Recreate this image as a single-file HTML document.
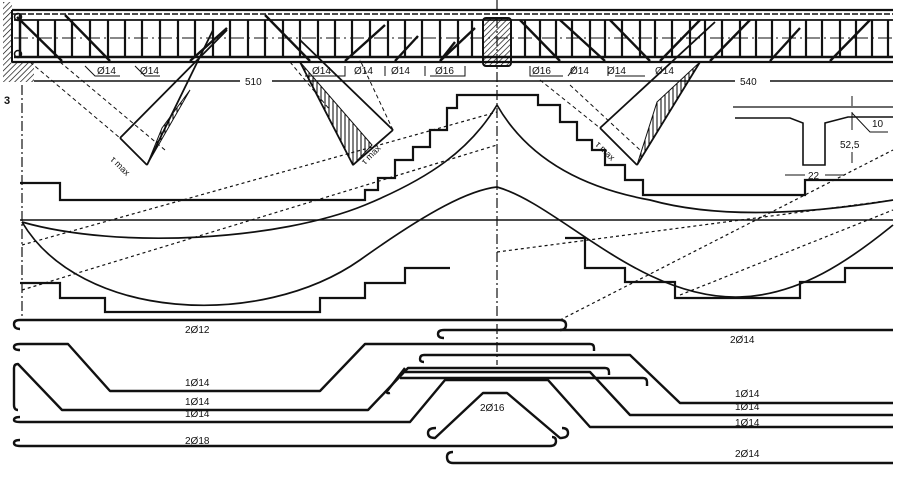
<!DOCTYPE html>
<html><head><meta charset="utf-8"><style>
html,body{margin:0;padding:0;background:#fff;}
svg{display:block;}
text{font-family:"Liberation Sans",sans-serif;fill:#111;}
</style></head><body>
<svg width="900" height="484" viewBox="0 0 900 484" xmlns="http://www.w3.org/2000/svg">
<defs>
<pattern id="h" width="4" height="4" patternUnits="userSpaceOnUse" patternTransform="rotate(45)"><line x1="0" y1="0" x2="0" y2="4" stroke="#000" stroke-width="1.3"/></pattern>
<pattern id="v" width="4" height="4" patternUnits="userSpaceOnUse"><line x1="1" y1="0" x2="1" y2="4" stroke="#000" stroke-width="1"/></pattern>
</defs>
<g stroke="#111" fill="none">
<rect x="3" y="2" width="9" height="80" fill="url(#h)" stroke="none"/>
<rect x="12" y="62" width="22" height="20" fill="url(#h)" stroke="none"/>
<line x1="12" y1="10" x2="893" y2="10" stroke-width="2.2"/>
<line x1="12" y1="14" x2="893" y2="14" stroke-width="1.5" stroke-dasharray="6 2"/>
<line x1="14" y1="20" x2="893" y2="20" stroke-width="1.8"/>
<line x1="14" y1="38" x2="893" y2="38" stroke-width="1" stroke-dasharray="14 4 2 4"/>
<line x1="14" y1="57" x2="893" y2="57" stroke-width="2.4"/>
<line x1="12" y1="62" x2="893" y2="62" stroke-width="2.2"/>
<line x1="12" y1="10" x2="12" y2="62" stroke-width="2"/>
<line x1="20" y1="14" x2="20" y2="58" stroke-width="2.5"/>
<circle cx="18" cy="17" r="3.5" stroke-width="1.5"/>
<circle cx="18" cy="54" r="3.5" stroke-width="1.5"/>
<g stroke-width="2.2">
<path d="M38 20V58M55 20V58M72 20V58M90 20V58M108 20V58M125 20V58M142 20V58M160 20V58M178 20V58M195 20V58M213 20V58M230 20V58M248 20V58M265 20V58M283 20V58M300 20V58M318 20V58M335 20V58M352 20V58M370 20V58M388 20V58M405 20V58M422 20V58M440 20V58M458 20V58M472 20V58M525 20V58M540 20V58M556 20V58M572 20V58M590 20V58M605 20V58M622 20V58M640 20V58M655 20V58M672 20V58M690 20V58M705 20V58M722 20V58M740 20V58M756 20V58M772 20V58M790 20V58M806 20V58M822 20V58M840 20V58M856 20V58M872 20V58M888 20V58"/>
</g>
<g stroke-width="2.4">
<path d="M17 17L62 61M65 15L110 61M227 28L190 61M265 15L310 61M345 61L385 25M395 61L418 36M440 61L455 42M475 28L440 61M520 20L560 61M560 20L605 61M610 20L650 61M700 20L660 61M710 61L750 20M770 61L800 28M830 61L870 20"/>
</g>
<rect x="483" y="18" width="28" height="48" rx="3" fill="url(#h)" stroke-width="2"/>
<g font-size="10">
<text x="97" y="74" fill="#111" stroke="none">Ø14</text>
<text x="140" y="74" fill="#111" stroke="none">Ø14</text>
<text x="312" y="74" fill="#111" stroke="none">Ø14</text>
<text x="354" y="74" fill="#111" stroke="none">Ø14</text>
<text x="391" y="74" fill="#111" stroke="none">Ø14</text>
<text x="435" y="74" fill="#111" stroke="none">Ø16</text>
<text x="532" y="74" fill="#111" stroke="none">Ø16</text>
<text x="570" y="74" fill="#111" stroke="none">Ø14</text>
<text x="607" y="74" fill="#111" stroke="none">Ø14</text>
<text x="655" y="74" fill="#111" stroke="none">Ø14</text>
</g>
<path d="M85 66L95 76H120M135 66L145 76H160M305 76H345V66M385 76V66M425 76V66M430 76H465V66M530 66V76H563M568 76L575 66M608 76V66M615 76H645" stroke-width="1"/>
<line x1="34" y1="81" x2="240" y2="81" stroke-width="1.6"/>
<line x1="272" y1="81" x2="735" y2="81" stroke-width="1.6"/>
<line x1="770" y1="81" x2="893" y2="81" stroke-width="1.6"/>
<line x1="497" y1="0" x2="497" y2="365" stroke-width="1.2" stroke-dasharray="10 3 2 3"/>
<line x1="22" y1="85" x2="22" y2="320" stroke-width="1.2" stroke-dasharray="10 3 2 3"/>
<path d="M147 165L213 30M120 138L227 30M120 138L147 165" stroke-width="1.8"/>
<path d="M30 62L120 138M60 62L165 150" stroke-width="1" stroke-dasharray="4 3"/>
<path d="M147 165L190 90L162 128Z" fill="url(#v)" stroke-width="1"/>
<path d="M353 165L300 62M393 130L300 40M393 130L353 165" stroke-width="1.8"/>
<path d="M353 165L300 62L372 145Z" fill="url(#v)" stroke-width="1"/>
<path d="M393 130L360 60M290 62L330 110" stroke-width="1" stroke-dasharray="4 3"/>
<path d="M637 165L700 62M600 128L715 22M600 128L637 165" stroke-width="1.8"/>
<path d="M637 165L700 62L657 102Z" fill="url(#v)" stroke-width="1"/>
<path d="M540 80L600 128M570 85L640 150" stroke-width="1" stroke-dasharray="4 3"/>
<path d="M20 183H60V200H365V190H378V178H395V160H413V147H430V130H447V108H457V95H538V105H560V122H577V140H592V150H605V165H625V180H643V195H805V180H893" stroke-width="2.2"/>
<path d="M497 105Q540 180 650 200Q740 225 893 200" stroke-width="1.7"/>
<path d="M22 222C120 250 280 240 365 205C430 178 470 150 497 105" stroke-width="1.7"/>
<line x1="20" y1="220" x2="893" y2="220" stroke-width="1.6"/>
<path d="M22 222C80 320 260 330 360 260C430 210 470 190 497 187C560 205 640 300 740 297C800 295 850 260 893 225" stroke-width="1.7"/>
<g stroke-width="1.2" stroke-dasharray="3 3">
<path d="M22 290L497 145"/>
<path d="M22 245L497 112"/>
<path d="M497 252L893 200"/>
<path d="M560 320L893 150"/>
<path d="M680 295L893 210"/>
</g>
<path d="M20 283H60V298H105V312H320V298H365V283H405V268H450" stroke-width="2.2"/>
<path d="M565 238H585V268H625V282H675V298H800V282H845V268H893" stroke-width="2.2"/>
<line x1="733" y1="107" x2="893" y2="107" stroke-width="1.2"/>
<path d="M735 118H790L803 123V165H825V123L848 117H893" stroke-width="1.6"/>
<path d="M852 96V106M852 112V130M852 152V163M852 113L870 132H888M805 175H798M825 175H832M785 175H803M827 175H845" stroke-width="1"/>
<g stroke-width="2.4" stroke-linejoin="round">
<path d="M20 329Q14 329 14 324Q14 320 20 320H560Q566 320 566 325Q566 330 560 330"/>
<path d="M444 338Q438 338 438 334Q438 330 444 330H893"/>
<path d="M20 350Q14 350 14 347Q14 344 20 344H68L110 391H320L365 344H590Q594 344 594 348V351"/>
<path d="M18 410Q14 410 14 405V368Q14 364 18 364L62 410H368L408 368H605Q609 368 609 372V375"/>
<path d="M20 417Q14 417 14 420Q14 422 20 422H410L445 380H548L590 427H893"/>
<path d="M424 362Q420 362 420 359Q420 355 424 355H630L680 403H893"/>
<path d="M405 372H590L630 415H893"/>
<path d="M400 378H643Q647 378 647 382V386M405 368L388 390Q385 394 390 393"/>
<path d="M436 428Q428 428 428 433Q428 438 435 438L483 393H507L560 438Q568 438 568 433Q568 428 562 428"/>
<path d="M20 440Q14 440 14 443Q14 446 20 446H550Q556 446 556 441Q556 437 552 437"/>
<path d="M453 452Q447 452 447 457Q447 463 453 463H893"/>
</g>
</g>
<g font-size="10">
<text x="245" y="85">510</text>
<text x="740" y="85">540</text>
<text x="4" y="104" font-size="11" font-weight="bold">3</text>
<text x="872" y="127">10</text>
<text x="840" y="148">52,5</text>
<text x="808" y="179">22</text>
<text x="185" y="333">2Ø12</text>
<text x="730" y="343">2Ø14</text>
<text x="185" y="386">1Ø14</text>
<text x="185" y="405">1Ø14</text>
<text x="185" y="417">1Ø14</text>
<text x="480" y="411">2Ø16</text>
<text x="735" y="397">1Ø14</text>
<text x="735" y="410">1Ø14</text>
<text x="735" y="426">1Ø14</text>
<text x="185" y="444">2Ø18</text>
<text x="735" y="457">2Ø14</text>
<text x="110" y="160" font-size="9" transform="rotate(45 110 160)">τ max</text>
<text x="365" y="165" font-size="9" transform="rotate(-45 365 165)">τ max</text>
<text x="595" y="145" font-size="9" transform="rotate(45 595 145)">τ max</text>
</g>
</svg>
</body></html>
